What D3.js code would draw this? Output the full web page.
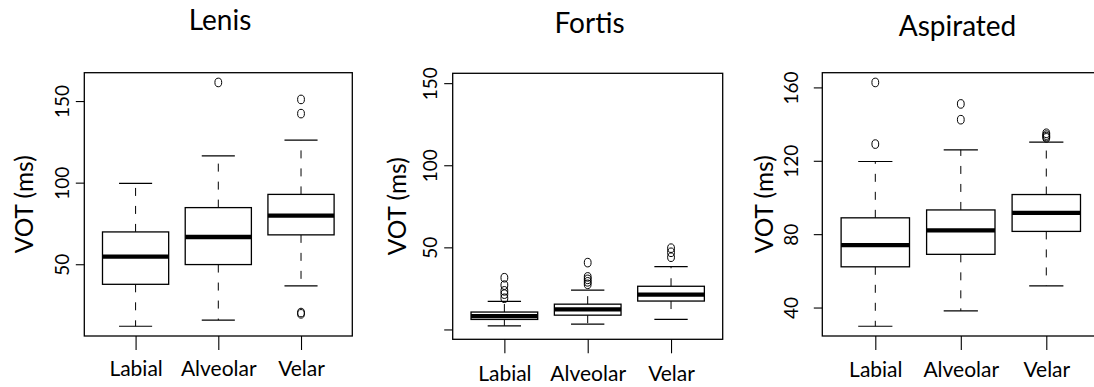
<!DOCTYPE html>
<html>
<head>
<meta charset="utf-8">
<script src="https://cdn.jsdelivr.net/npm/d3@7"></script>
<style>
  html, body { margin: 0; padding: 0; background: #fff; }
  svg { display: block; }
  text { font-family: Lato, "Open Sans", sans-serif; fill: #000; }
</style>
</head>
<body>
<svg id="chart" width="1094" height="387"></svg>
<script>
// Places of articulation on the x axis of every panel
const categories = ["Labial", "Alveolar", "Velar"];
const panelTitles = ["Lenis", "Fortis", "Aspirated"];

// Box statistics per place: [lower whisker, Q1, median, Q3, upper whisker]
const lenisStats = [
  [12.0, 37.7, 54.7, 69.8, 99.6],
  [15.8, 49.8, 66.7, 84.7, 116.4],
  [36.7, 68.0, 79.8, 92.8, 126.0]
];
const lenisOutliers = [[], [161.4], [151.0, 142.3, 20.4, 19.6]];
const lenisTicks = [50, 100, 150];
const lenisTickLabels = ["50", "100", "150"];

const fortisStats = [
  [2.2, 6.1, 8.1, 10.6, 17.1],
  [3.2, 8.7, 12.2, 15.4, 24.0],
  [6.1, 17.3, 21.2, 26.3, 38.3]
];
const fortisOutliers = [
  [31.5, 27.0, 23.5, 21.5, 19.0],
  [40.7, 32.0, 30.5, 29.0, 27.5],
  [49.5, 47.0, 44.0]
];
const fortisTicks = [0, 50, 100, 150];
const fortisTickLabels = ["", "50", "100", "150"];
const fortisLimits = [0, 150];

const aspiratedStats = [
  [29.8, 62.2, 74.0, 88.9, 119.6],
  [38.2, 69.0, 82.1, 93.2, 126.0],
  [51.8, 81.5, 91.6, 101.6, 130.2]
];
const aspiratedOutliers = [[162.7, 129.1], [151.0, 142.4], [135.0, 134.0, 133.2, 132.5]];
const aspiratedTicks = [40, 80, 120, 160];
const aspiratedTickLabels = ["40", "80", "120", "160"];

const yTitle = "VOT (ms)";

// Plot frames and label placement for each panel
const layout = [
  { left: 84.3,  right: 352.3,  top: 72.7, bottom: 336.0, titleX: 220.0, titleY: 30.0, tickLabelDx: -23.3, yTitleDx: -61.0, xLabelDy: 40 },
  { left: 452.7, right: 722.7,  top: 73.3, bottom: 339.3, titleX: 589.5, titleY: 33.3, tickLabelDx: -23.7, yTitleDx: -56.0, xLabelDy: 42 },
  { left: 822.3, right: 1099.3, top: 72.7, bottom: 336.0, titleX: 957.5, titleY: 35.7, tickLabelDx: -31.8, yTitleDx: -59.3, xLabelDy: 41 }
];

const panels = [
  { title: panelTitles[0], stats: lenisStats, outliers: lenisOutliers, ticks: lenisTicks, labels: lenisTickLabels, limits: null },
  { title: panelTitles[1], stats: fortisStats, outliers: fortisOutliers, ticks: fortisTicks, labels: fortisTickLabels, limits: fortisLimits },
  { title: panelTitles[2], stats: aspiratedStats, outliers: aspiratedOutliers, ticks: aspiratedTicks, labels: aspiratedTickLabels, limits: null }
];

const svg = d3.select("#chart");
const boxHalf = 0.4;     // half box width in category units
const stapleHalf = 0.2;  // half whisker-cap width

panels.forEach((p, i) => {
  const L = layout[i];
  const g = svg.append("g");

  // y range: given limits or the data extent, padded by 4% on each side
  let lo, hi;
  if (p.limits) {
    [lo, hi] = p.limits;
  } else {
    const all = p.stats.flat().concat(p.outliers.flat());
    lo = d3.min(all);
    hi = d3.max(all);
  }
  const pad = (hi - lo) * 0.04;
  const y = d3.scaleLinear().domain([lo - pad, hi + pad]).range([L.bottom, L.top]);

  const n = categories.length;
  const xpad = n * 0.04;
  const x = d3.scaleLinear().domain([0.5 - xpad, n + 0.5 + xpad]).range([L.left, L.right]);

  // whiskers (dashed), drawn outward from the box edges
  const boxes = g.selectAll("g.box").data(p.stats).join("g").attr("class", "box");
  boxes.append("line")
    .attr("x1", (d, j) => x(j + 1)).attr("x2", (d, j) => x(j + 1))
    .attr("y1", d => y(d[3])).attr("y2", d => y(d[4]))
    .attr("stroke", "#000").attr("stroke-width", 1).attr("stroke-dasharray", "8,10");
  boxes.append("line")
    .attr("x1", (d, j) => x(j + 1)).attr("x2", (d, j) => x(j + 1))
    .attr("y1", d => y(d[1])).attr("y2", d => y(d[0]))
    .attr("stroke", "#000").attr("stroke-width", 1).attr("stroke-dasharray", "8,10");

  // whisker caps
  [0, 4].forEach(k => {
    boxes.append("line")
      .attr("x1", (d, j) => x(j + 1 - stapleHalf)).attr("x2", (d, j) => x(j + 1 + stapleHalf))
      .attr("y1", d => y(d[k])).attr("y2", d => y(d[k]))
      .attr("stroke", "#000").attr("stroke-width", 1.2);
  });

  // boxes
  boxes.append("rect")
    .attr("x", (d, j) => x(j + 1 - boxHalf))
    .attr("width", (d, j) => x(j + 1 + boxHalf) - x(j + 1 - boxHalf))
    .attr("y", d => y(d[3]))
    .attr("height", d => y(d[1]) - y(d[3]))
    .attr("fill", "#fff").attr("stroke", "#000").attr("stroke-width", 1.3);

  // medians
  boxes.append("line")
    .attr("x1", (d, j) => x(j + 1 - boxHalf)).attr("x2", (d, j) => x(j + 1 + boxHalf))
    .attr("y1", d => y(d[2])).attr("y2", d => y(d[2]))
    .attr("stroke", "#000").attr("stroke-width", 4.3);

  // outliers
  const pts = p.outliers.flatMap((vals, j) => vals.map(v => ({ j, v })));
  g.selectAll("ellipse").data(pts).join("ellipse")
    .attr("cx", d => x(d.j + 1)).attr("cy", d => y(d.v))
    .attr("rx", 3.4).attr("ry", 4.3)
    .attr("fill", "none").attr("stroke", "#000").attr("stroke-width", 1);

  // plot frame
  g.append("rect")
    .attr("x", L.left).attr("y", L.top)
    .attr("width", L.right - L.left).attr("height", L.bottom - L.top)
    .attr("fill", "none").attr("stroke", "#000").attr("stroke-width", 1.3);

  // y axis
  const yAxis = g.append("g")
    .attr("transform", `translate(${L.left},0)`)
    .call(d3.axisLeft(y).tickValues(p.ticks).tickSize(8.5)
      .tickFormat(d => p.labels[p.ticks.indexOf(d)]));
  yAxis.attr("font-family", null).attr("font-size", null);
  yAxis.select(".domain").remove();
  yAxis.selectAll(".tick line").attr("stroke", "#000").attr("stroke-width", 1.1);
  yAxis.selectAll(".tick text")
    .attr("x", 0).attr("dy", null)
    .attr("transform", `translate(${L.tickLabelDx},0) rotate(-90)`)
    .attr("text-anchor", "middle")
    .attr("dominant-baseline", "central")
    .style("font-size", "19px");

  // x axis
  const xAxis = g.append("g")
    .attr("transform", `translate(0,${L.bottom})`)
    .call(d3.axisBottom(x).tickValues(d3.range(1, n + 1)).tickSize(14)
      .tickFormat(d => categories[d - 1]));
  xAxis.attr("font-family", null).attr("font-size", null);
  xAxis.select(".domain").remove();
  xAxis.selectAll(".tick line").attr("stroke", "#000").attr("stroke-width", 1.1);
  xAxis.selectAll(".tick text")
    .attr("y", L.xLabelDy).attr("dy", null)
    .attr("text-anchor", "middle")
    .style("font-size", "21px");

  // y axis title
  const midY = (L.top + L.bottom) / 2;
  g.append("text")
    .attr("transform", `translate(${L.left + L.yTitleDx},${midY}) rotate(-90)`)
    .attr("text-anchor", "middle")
    .attr("dominant-baseline", "central")
    .style("font-size", "24.5px")
    .text(yTitle);

  // panel title
  g.append("text")
    .attr("x", L.titleX).attr("y", L.titleY)
    .attr("text-anchor", "middle")
    .style("font-size", "28px")
    .text(p.title);
});
</script>
</body>
</html>
